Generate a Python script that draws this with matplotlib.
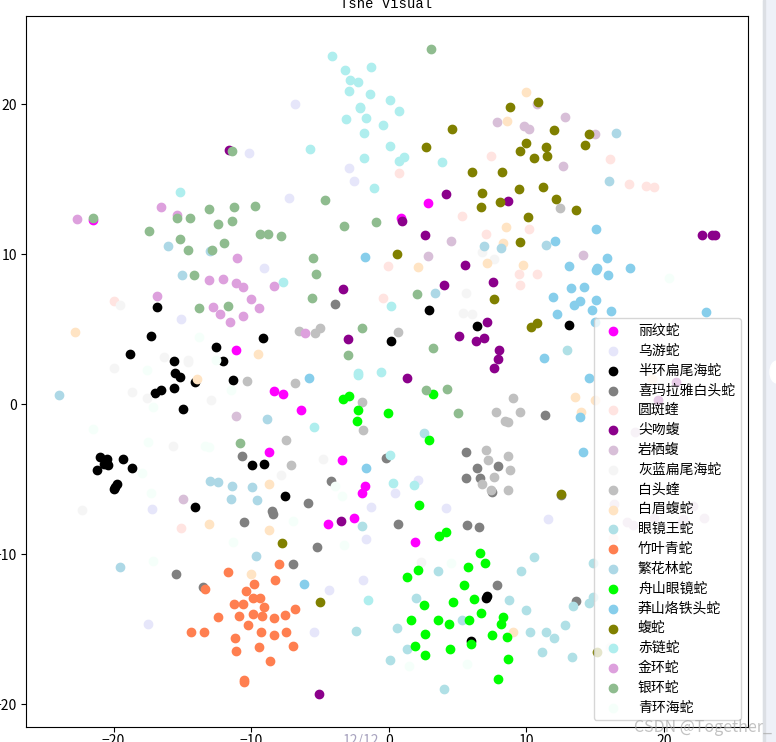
import matplotlib
matplotlib.use('Agg')
import matplotlib.pyplot as plt
import numpy as np
from matplotlib.patches import Rectangle, Ellipse

plt.rcParams['font.family'] = ['Noto Sans CJK SC', 'DejaVu Sans']

names = ['丽纹蛇', '乌游蛇', '半环扁尾海蛇', '喜玛拉雅白头蛇', '圆斑蝰', '尖吻蝮', '岩栖蝮', '灰蓝扁尾海蛇',
         '白头蝰', '白眉蝮蛇', '眼镜王蛇', '竹叶青蛇', '繁花林蛇', '舟山眼镜蛇', '莽山烙铁头蛇', '蝮蛇',
         '赤链蛇', '金环蛇', '银环蛇', '青环海蛇']
colors = ['magenta', 'lavender', 'black', 'gray', 'mistyrose', 'darkmagenta', 'thistle', 'whitesmoke',
          'silver', 'bisque', 'powderblue', 'coral', 'lightblue', 'lime', 'skyblue', 'olive',
          'paleturquoise', 'plum', 'darkseagreen', 'mintcream']

liwen = [(-21.53, 12.31), (-11.07, 3.6), (2.88, 13.4), (0.92, 12.4), (-8.31, 0.87), (-7.66, 0.67), (-6.35, -0.4),
         (-8.67, -3.2), (-3.37, -3.73), (-1.7, -5.47), (-1.91, -5.93), (-2.5, -7.6), (-4.38, -8.0), (1.94, -9.2)]
wuyou = [(-6.83, 20.0), (-10.13, 16.73), (-2.86, 15.73), (-2.5, 14.87), (-7.22, 13.73), (-9.04, 9.07), (-15.07, 5.67),
         (-17.18, -7.0), (-17.47, -14.67), (-5.4, -15.2), (-4.31, -12.4), (-1.84, -11.73), (-1.62, -9.0), (-1.26, -6.87),
         (2.16, -5.07), (0.48, -5.93), (4.19, -6.93), (11.6, -7.67)]
banhuan = [(-16.81, 6.47), (-17.25, 4.53), (-18.77, 3.33), (-12.52, 3.8), (-9.11, 4.4), (-15.6, 2.87), (-12.02, 2.87),
           (-15.53, 2.11), (-15.19, 1.8), (-14.05, 1.47), (-11.29, 1.6), (-16.52, 0.93), (-16.98, 0.78), (-15.58, 1.07),
           (-14.95, -0.33), (-20.95, -3.53), (-20.47, -3.67), (-20.71, -4.0), (-20.37, -4.02), (-21.17, -4.4),
           (-19.28, -3.67), (-18.63, -4.27), (-19.77, -5.33), (-19.86, -5.49), (-19.94, -5.62), (-9.91, -4.07),
           (-9.04, -4.0), (-7.51, -6.13), (-14.05, -6.87), (2.95, 6.27), (6.44, 5.2), (13.13, 5.27), (0.19, 4.2),
           (7.15, -12.8), (7.1, -12.9), (5.96, -15.78)]
ximala = [(-3.88, 6.67), (-10.63, -3.47), (-4.17, -5.13), (-5.84, -6.6), (-8.45, -7.13), (-8.38, -7.31), (-10.49, -7.87),
          (-5.18, -9.53), (-6.93, -10.67), (-15.43, -11.33), (-13.47, -12.2), (-0.19, -3.6), (0.7, -8.0), (5.72, -8.07),
          (6.59, -8.2), (7.9, -12.07), (13.64, -13.13), (11.39, -0.73), (5.64, -3.2), (6.44, -4.27), (7.97, -4.13),
          (5.64, -4.93), (6.66, -4.93), (7.53, -5.87), (12.5, -6.03)]
yuanban = [(-19.94, 6.87), (-0.39, 7.07), (-0.02, 9.2), (0.78, 15.4), (7.46, 16.53), (5.35, 12.53), (7.1, 11.33),
           (10.22, 11.67), (9.5, 8.67), (10.8, 8.67), (9.57, 7.93), (16.09, 16.38), (17.49, 14.67), (18.73, 14.53),
           (19.28, 14.51), (-15.07, -8.27), (16.28, -8.93)]
jianwen = [(-11.63, 16.93), (-3.29, 7.67), (-2.93, 4.33), (4.19, 14.02), (0.99, 12.2), (8.65, 13.53), (2.66, 11.27),
           (5.57, 9.27), (7.61, 8.13), (4.05, 7.93), (7.17, 5.47), (5.14, 4.53), (6.37, 4.2), (6.95, 4.4), (8.04, 3.6),
           (7.97, 3.0), (7.68, 2.4), (22.8, 11.27), (23.52, 11.27), (23.69, 11.31), (1.36, 1.73), (-3.44, -7.8),
           (-5.04, -19.33), (20.9, 1.51), (19.6, 0.27)]
yanqi = [(10.8, 20.0), (7.9, 18.8), (9.86, 18.53), (10.22, 18.33), (12.84, 19.13), (15.02, 18.0), (12.69, 15.87),
         (4.55, 10.87), (2.88, 9.87), (14.12, 9.93), (-11.07, -0.8), (-14.92, -6.33), (17.93, -1.87), (16.38, -6.67),
         (22.12, -6.8), (19.31, -7.6), (17.35, -7.87), (17.78, -8.07), (21.41, -7.67), (22.94, -7.6), (21.2, -8.0)]
huilan = [(-19.5, 6.6), (-16.3, 3.13), (-14.61, 2.93), (-14.56, 2.82), (-19.94, 2.4), (-18.63, 0.8), (-17.54, 0.4),
          (-12.89, 0.27), (-15.65, -2.8), (-22.29, -7.07), (-7.8, -4.73), (-4.75, -3.67), (6.81, 10.18), (7.68, 9.67),
          (5.64, 7.4), (5.43, 6.07), (6.08, 6.0), (2.37, -10.53), (16.06, -16.18)]
baitou = [(-6.49, 4.87), (-5.33, 4.73), (-4.97, 5.07), (-10.3, 1.53), (-6.78, 1.4), (-1.91, 0.13), (-1.84, -1.73),
          (-7.44, -2.4), (-7.07, -4.07), (12.48, 13.07), (0.7, 4.8), (9.06, 0.4), (7.82, -0.53), (9.57, -0.53),
          (8.48, -1.13), (8.7, -1.2), (7.1, -3.07), (7.24, -3.73), (8.7, -3.47), (8.84, -4.4), (7.68, -4.87),
          (6.81, -5.33), (7.46, -5.73), (8.7, -5.73)]
baimei = [(-22.77, 4.8), (-9.47, 3.33), (-13.9, 1.67), (-8.67, -5.33), (-13.1, -8.0), (-8.67, -8.4), (-9.98, -11.33),
          (10.0, 20.8), (8.62, 18.87), (8.55, 11.8), (8.33, 10.73), (7.17, 9.4), (9.79, 9.27), (2.16, 9.13),
          (13.57, 0.47), (15.02, 0.27), (14.0, -0.53), (9.06, -15.2), (19.11, 1.67)]
yanjing = [(2.59, -1.93), (10.59, -10.2), (9.64, -11.13), (3.61, -11.13), (2.01, -12.93), (8.77, -13.07), (10.0, -13.73),
           (0.63, -14.93), (5.35, -14.4), (12.84, -14.73), (10.3, -15.2), (11.46, -15.2), (12.04, -15.6), (11.17, -16.53),
           (13.35, -16.87), (1.36, -16.33), (0.12, -17.07), (4.05, -19.0), (13.42, -13.47), (14.58, -13.27),
           (14.87, -12.87), (14.87, -10.6), (-1.91, -8.13), (-2.4, -15.13), (12.96, 3.6)]
zhuye = [(-7.95, -10.67), (-11.65, -11.2), (-8.24, -11.73), (-9.76, -12.0), (-13.32, -12.33), (-10.34, -12.47),
         (-9.84, -12.93), (-9.33, -12.93), (-11.22, -13.33), (-10.56, -13.33), (-9.04, -13.53), (-6.78, -13.67),
         (-9.84, -14.0), (-9.18, -14.13), (-10.85, -14.13), (-7.51, -14.07), (-8.31, -14.27), (-12.38, -14.2),
         (-10.2, -14.73), (-14.34, -15.2), (-13.4, -15.2), (-9.25, -15.2), (-7.44, -15.2), (-8.31, -15.4),
         (-11.14, -15.6), (-11.07, -16.47), (-9.4, -16.2), (-6.93, -16.13), (-8.6, -17.13), (-10.49, -18.42),
         (-10.49, -18.56)]
fanhua = [(-16.01, 10.53), (-12.98, 10.24), (-15.0, 8.6), (16.55, 18.07), (16.04, 14.87), (6.95, 10.53), (8.19, 10.4),
          (11.46, 10.6), (3.39, 7.4), (-24.0, 0.6), (-19.5, -10.87), (-12.96, -5.13), (-12.38, -5.2), (-11.36, -5.47),
          (-9.91, -5.53), (-11.43, -6.33), (-9.54, -6.4), (-8.82, -1.0), (-9.62, -10.13)]
zhoushan = [(-3.29, 0.33), (-2.86, 0.53), (-2.2, -0.4), (-2.28, -1.13), (-0.07, -0.6), (3.25, 0.67), (2.96, -2.4),
            (2.23, -6.73), (4.19, -8.53), (3.68, -8.8), (6.66, -9.93), (7.0, -10.6), (5.79, -10.87), (2.16, -11.07),
            (1.36, -11.53), (5.5, -12.07), (6.23, -13.0), (4.7, -13.2), (2.59, -13.4), (6.73, -13.93), (8.33, -14.2),
            (8.19, -14.67), (1.65, -14.4), (3.61, -14.4), (4.41, -14.67), (5.86, -14.4), (2.66, -15.33), (7.53, -15.4),
            (8.62, -15.53), (1.94, -16.13), (4.48, -16.33), (6.01, -16.0), (2.66, -16.73), (8.7, -17.0), (7.97, -18.33)]
mangshan = [(-1.7, 9.8), (12.11, 10.87), (15.09, 11.67), (15.89, 9.73), (13.13, 9.2), (15.16, 9.07), (15.09, 8.93),
            (15.96, 8.6), (17.54, 9.07), (14.22, 7.8), (13.28, 7.73), (11.97, 7.13), (15.09, 6.93), (13.93, 6.87),
            (13.49, 6.6), (14.8, 6.27), (16.18, 6.2), (12.26, 6.0), (15.02, 5.47), (11.31, 3.07), (23.04, 6.13),
            (14.58, 1.73), (13.93, -0.87), (14.15, -3.2), (-5.77, 1.73), (-1.62, -4.27), (-6.13, -12.0)]
fushe = [(8.84, 19.8), (10.88, 20.13), (4.63, 18.33), (2.74, 17.13), (12.04, 18.27), (14.58, 18.0), (14.29, 17.27),
         (10.0, 17.4), (9.57, 16.87), (11.46, 17.13), (11.53, 16.53), (10.59, 16.4), (6.08, 15.47), (8.26, 15.47),
         (6.81, 14.07), (9.5, 14.33), (11.24, 14.47), (12.18, 13.67), (6.73, 13.13), (8.12, 13.47), (13.64, 12.93),
         (10.15, 12.47), (9.57, 10.8), (0.63, 10.0), (7.68, 7.0), (10.37, 5.13), (10.8, 5.4), (12.55, -6.0),
         (-7.73, -9.27), (-4.97, -13.2), (15.14, -16.53)]
chilian = [(-4.09, 23.2), (-3.15, 22.27), (-2.79, 21.6), (-2.25, 21.53), (-2.86, 20.93), (-1.33, 20.73), (-1.26, 22.53),
           (0.07, 20.27), (-2.06, 19.78), (-2.06, 19.84), (-1.62, 19.07), (-3.08, 19.0), (-0.39, 18.6), (-1.77, 18.07),
           (0.12, 17.2), (-1.77, 16.4), (-1.04, 14.4), (-5.69, 17.0), (-15.14, 14.13), (-7.65, 8.13), (0.78, 19.53),
           (0.78, 16.2), (1.14, 16.47), (3.9, 16.13), (0.19, 6.53), (-2.25, 1.96), (-2.25, 2.07), (-0.58, 2.16),
           (-5.4, -1.53), (0.1, -3.38), (-1.48, -13.04), (0.34, -5.27), (1.87, -5.4)]
jinhuan = [(-22.63, 12.33), (-16.52, 13.13), (-15.36, 12.6), (-11.0, 9.73), (-13.03, 8.27), (-12.02, 8.33), (-11.07, 8.07),
           (-10.56, 7.8), (-8.31, 7.87), (-16.81, 7.2), (-9.98, 7.0), (-9.4, 6.4), (-12.74, 6.47), (-12.23, 6.0),
           (-10.56, 5.87), (-11.51, 5.47), (-6.06, 4.73)]
yinhuan = [(-21.46, 12.4), (-11.36, 16.87), (-17.39, 11.53), (-15.36, 12.4), (-14.41, 12.4), (-13.03, 13.0), (-11.22, 13.13),
           (-9.71, 13.2), (-11.36, 12.2), (-12.38, 12.0), (-15.14, 11.0), (-14.56, 10.27), (-12.81, 10.27), (-11.94, 10.73),
           (-9.33, 11.33), (-8.75, 11.33), (-7.8, 11.2), (-4.6, 13.6), (-3.22, 11.87), (-0.9, 12.13), (-5.47, 9.73),
           (-5.26, 8.67), (-5.55, 7.07), (-14.12, 8.6), (-13.76, 6.4), (-11.65, 6.53), (-1.91, 5.07), (-2.93, 3.27),
           (3.1, 23.67), (2.06, 7.33), (3.25, 3.73), (2.74, 0.93), (4.26, 1.0), (5.06, -0.6), (-10.78, -2.6)]
qinghuan = [(-13.76, 4.47), (-12.52, 2.93), (-17.54, 2.29), (-11.43, 0.93), (-17.1, -0.2), (-21.46, -1.67), (-17.47, -2.53),
            (-13.32, -2.8), (-13.03, -2.87), (-17.9, -4.6), (-17.25, -5.93), (-17.1, -10.47), (-11.29, -9.2), (-6.93, -7.8),
            (-3.88, -5.47), (-3.37, -6.13), (-3.22, -9.4), (20.4, 8.4), (4.55, -10.6), (1.5, -17.47), (5.72, -17.33)]

groups = [liwen, wuyou, banhuan, ximala, yuanban, jianwen, yanqi, huilan, baitou, baimei,
          yanjing, zhuye, fanhua, zhoushan, mangshan, fushe, chilian, jinhuan, yinhuan, qinghuan]

W, H = 776, 742
fig = plt.figure(figsize=(W / 100, H / 100), dpi=100)
ax = fig.add_axes([25.5 / W, (H - 727) / H, (747.6 - 25.5) / W, (727 - 16) / H])

for pts, name, c in zip(groups, names, colors):
    pts = np.array(pts)
    ax.scatter(pts[:, 0], pts[:, 1], color=c, label=name)

ax.set_xlim(-26.4, 26.08)
ax.set_ylim(-21.53, 25.9)
ax.set_xticks([-20, -10, 0, 10, 20])
ax.set_yticks([-20, -10, 0, 10, 20])
ax.tick_params(axis='x', pad=1.5)
ax.tick_params(axis='y', pad=2.5)
ax.set_title('Tsne Visual', family='Liberation Mono', fontsize=10, pad=5.8)
ax.legend(loc='lower right', labelspacing=0.42)

# screenshot leftovers around the plot
fig.add_artist(Rectangle((762.5 / W, 0), 14 / W, 1, transform=fig.transFigure, color='#eef1f8', zorder=-1))
fig.add_artist(Rectangle((762.5 / W, 0), 2 / W, 1, transform=fig.transFigure, color='#dcdfe4', zorder=-1))
fig.add_artist(Ellipse((777 / W, 1 - 372 / H), 14 / W, 22 / H, transform=fig.transFigure, color='white', zorder=-1))
fig.text(343 / W, -6 / H, '12/12', color='#a8a3bf', fontsize=10, va='bottom')
fig.text(634 / W, 6 / H, 'CSDN @Together_ CZ', color='#a8a8a8', alpha=0.7, fontsize=11.5, va='bottom')

plt.savefig('out.png', dpi=100)
